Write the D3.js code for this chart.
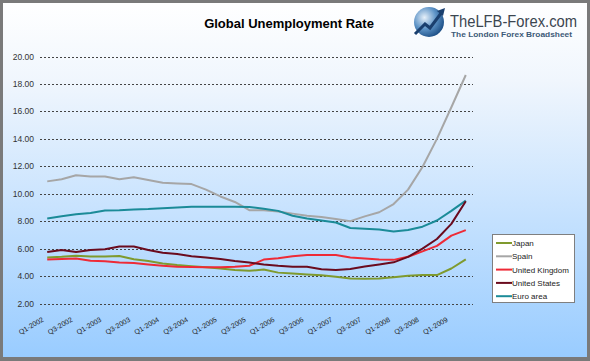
<!DOCTYPE html>
<html>
<head>
<meta charset="utf-8">
<script src="https://cdn.jsdelivr.net/npm/d3@7"></script>
<style>
  html, body { margin: 0; padding: 0; background: #fff; }
  svg { display: block; }
  text { font-family: "Liberation Sans", Arial, sans-serif; }
</style>
</head>
<body>
<div id="root"></div>
<script>
// quarterly categories, Q1-2002 .. Q2-2009
var quarters = ["Q1-2002","Q2-2002","Q3-2002","Q4-2002","Q1-2003","Q2-2003","Q3-2003","Q4-2003",
  "Q1-2004","Q2-2004","Q3-2004","Q4-2004","Q1-2005","Q2-2005","Q3-2005","Q4-2005",
  "Q1-2006","Q2-2006","Q3-2006","Q4-2006","Q1-2007","Q2-2007","Q3-2007","Q4-2007",
  "Q1-2008","Q2-2008","Q3-2008","Q4-2008","Q1-2009","Q2-2009"];

var japan = [5.35,5.4,5.48,5.42,5.42,5.46,5.22,5.1,4.92,4.8,4.72,4.65,4.55,4.45,4.38,4.48,
  4.25,4.18,4.12,4.05,3.95,3.82,3.8,3.82,3.92,4.02,4.07,4.07,4.55,5.22];
var spain = [10.9,11.05,11.35,11.25,11.25,11.05,11.2,11.0,10.8,10.75,10.7,10.3,9.8,9.4,8.8,8.8,
  8.7,8.55,8.4,8.3,8.15,8.0,8.35,8.65,9.25,10.3,11.95,14.0,16.3,18.65];
var uk = [5.2,5.25,5.28,5.12,5.08,4.98,4.95,4.85,4.75,4.68,4.66,4.65,4.64,4.68,4.75,5.2,
  5.3,5.45,5.53,5.53,5.53,5.35,5.28,5.2,5.18,5.4,5.8,6.2,6.95,7.35];
var us = [5.75,5.9,5.75,5.9,5.95,6.15,6.15,5.9,5.7,5.6,5.45,5.35,5.25,5.1,4.98,4.85,
  4.75,4.68,4.68,4.5,4.45,4.52,4.7,4.85,5.0,5.4,6.0,6.7,7.8,9.45];
var euro = [8.2,8.35,8.5,8.6,8.78,8.8,8.85,8.88,8.95,9.0,9.05,9.05,9.05,9.05,9.03,8.9,
  8.75,8.4,8.2,8.05,7.9,7.5,7.45,7.4,7.25,7.35,7.6,8.05,8.75,9.5];

var seriesNames = ["Japan","Spain","United Kingdom","United States","Euro area"];
var yTicks = [2,4,6,8,10,12,14,16,18,20];

var colors = {
  "Japan":"#7f9a2e",
  "Spain":"#a6a6a6",
  "United Kingdom":"#ee2a36",
  "United States":"#6a0b1e",
  "Euro area":"#1b8b98"
};

var W = 590, H = 361;
var series = [
  {name:"Japan", values:japan},
  {name:"Spain", values:spain},
  {name:"United Kingdom", values:uk},
  {name:"United States", values:us},
  {name:"Euro area", values:euro}
];

var svg = d3.select("#root").append("svg").attr("width", W).attr("height", H);
var defs = svg.append("defs");

var bg = defs.append("linearGradient").attr("id","bg").attr("x1",0).attr("y1",0).attr("x2",0).attr("y2",1);
bg.append("stop").attr("offset","0%").attr("stop-color","#ffffff");
bg.append("stop").attr("offset","22%").attr("stop-color","#f0f6fd");
bg.append("stop").attr("offset","100%").attr("stop-color","#99ccff");

var globe = defs.append("radialGradient").attr("id","globe").attr("cx","35%").attr("cy","35%").attr("r","70%");
globe.append("stop").attr("offset","0%").attr("stop-color","#e6f0fa");
globe.append("stop").attr("offset","55%").attr("stop-color","#5d93c6");
globe.append("stop").attr("offset","100%").attr("stop-color","#1d4f86");

// frame
svg.append("rect").attr("width", W).attr("height", H).attr("fill", "#7a7a7a");
svg.append("rect").attr("x", 3).attr("y", 3).attr("width", W - 6).attr("height", H - 7)
  .attr("fill", "url(#bg)");

// title
svg.append("text").attr("x", 289).attr("y", 28).attr("text-anchor","middle")
  .style("font-size","13px").style("font-weight","bold").attr("fill","#000")
  .text("Global Unemployment Rate");

// logo
var logo = svg.append("g");
logo.append("circle").attr("cx", 429).attr("cy", 22).attr("r", 15).attr("fill","url(#globe)");
logo.append("path").attr("d","M415,34 L425,24 L430,28 L442,12")
  .attr("fill","none").attr("stroke","#1a3f6e").attr("stroke-width",3);
logo.append("path").attr("d","M437,11 L445,8 L443,16 Z").attr("fill","#1a3f6e");
logo.append("text").attr("x", 450).attr("y", 27)
  .style("font-size","16px")
  .attr("textLength", 127).attr("lengthAdjust","spacingAndGlyphs")
  .attr("fill","#3b4650").text("TheLFB-Forex.com");
logo.append("text").attr("x", 451).attr("y", 37)
  .style("font-size","7.5px").style("font-weight","bold")
  .attr("textLength", 121).attr("lengthAdjust","spacingAndGlyphs")
  .attr("fill","#3c5a78").text("The London Forex Broadsheet");

// scales
var x = d3.scaleBand().domain(quarters).range([40, 473]);
var y = d3.scaleLinear().domain([2, 20]).range([303.5, 56.5]);
function cx(q){ return x(q) + x.bandwidth() / 2; }

// gridlines
svg.append("g").selectAll("line").data(yTicks).enter().append("line")
  .attr("x1", 40).attr("x2", 473)
  .attr("y1", function(d){ return Math.round(y(d)) + 0.5; })
  .attr("y2", function(d){ return Math.round(y(d)) + 0.5; })
  .attr("stroke","#444").attr("stroke-width",1).attr("stroke-dasharray","2,2");

// y labels
svg.append("g").selectAll("text").data(yTicks).enter().append("text")
  .attr("x", 34).attr("y", function(d){ return y(d) + 3; })
  .attr("text-anchor","end").style("font-size","8.5px").attr("fill","#333")
  .text(d3.format(".2f"));

// x labels, every other quarter
svg.append("g").selectAll("text").data(quarters.filter(function(q, i){ return i % 2 === 0; }))
  .enter().append("text")
  .attr("transform", function(q){ return "translate(" + (cx(q) - 3) + ",321) rotate(-30)"; })
  .attr("text-anchor","end").style("font-size","7px").attr("fill","#222")
  .text(function(q){ return q; });

// lines
var line = d3.line()
  .x(function(d, i){ return cx(quarters[i]); })
  .y(function(d){ return y(d); });

var drawOrder = ["Spain","Euro area","Japan","United Kingdom","United States"];
drawOrder.forEach(function(n){
  var s = series.filter(function(a){ return a.name === n; })[0];
  svg.append("path").datum(s.values)
    .attr("d", line).attr("fill","none")
    .attr("stroke", colors[n]).attr("stroke-width", 2)
    .attr("stroke-linejoin","round");
});

// legend
var legend = svg.append("g");
legend.append("rect").attr("x", 492.5).attr("y", 234.5).attr("width", 82).attr("height", 68)
  .attr("fill","#fff").attr("stroke","#7f7f7f");
var items = legend.selectAll("g.item").data(seriesNames).enter().append("g")
  .attr("transform", function(d, i){ return "translate(0," + (243 + i * 13.3) + ")"; });
items.append("line").attr("x1", 496).attr("x2", 512).attr("y1", 0).attr("y2", 0)
  .attr("stroke", function(d){ return colors[d]; }).attr("stroke-width", 2);
items.append("text").attr("x", 512).attr("y", 3).style("font-size","8px").attr("fill","#222")
  .text(function(d){ return d; });
</script>
</body>
</html>
